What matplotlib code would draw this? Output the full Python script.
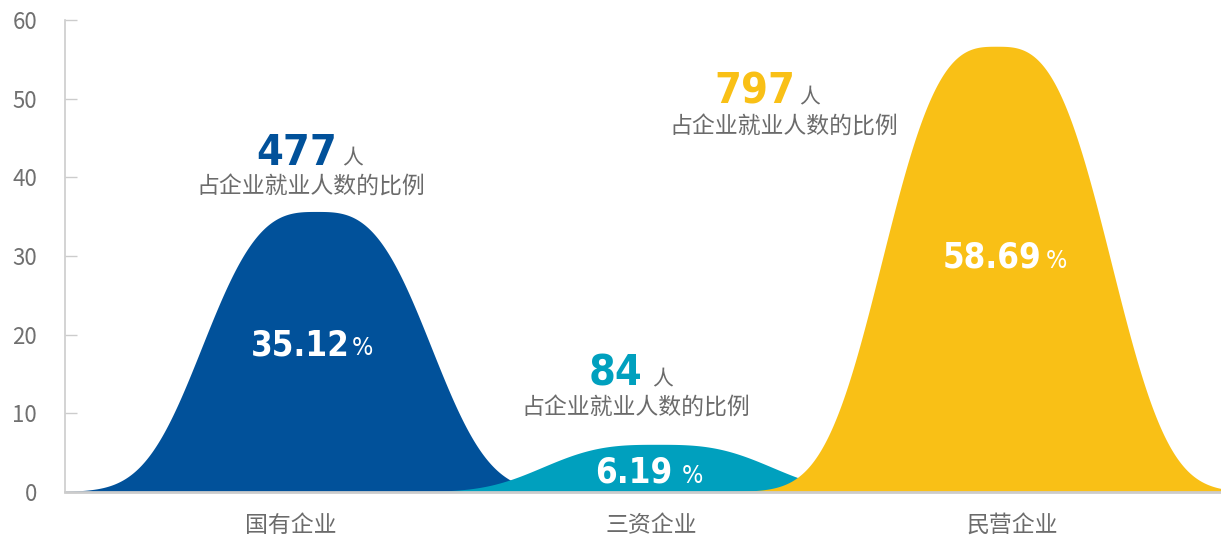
import numpy as np
import matplotlib
matplotlib.use("Agg")
import matplotlib.pyplot as plt

# data
categories = ["国有企业", "三资企业", "民营企业"]
counts = [477, 84, 797]
shares = [35.12, 6.19, 58.69]
peaks = [35.6, 6.0, 56.6]          # shape heights as drawn
y_ticks = [0, 10, 20, 30, 40, 50, 60]
sub_text = "占企业就业人数的比例"

colors = ["#01519a", "#00a0be", "#f9c016"]
cjk = ["Noto Sans CJK SC", "DejaVu Sans"]
num = ["DejaVu Sans"]
gray = "#6b6b6b"

# layout (data coords)
shift = [0.072, 0.017, -0.042]
num_right = [0.128, 0.976, 1.398]
ren_left = [0.141, 1.001, 1.409]
num_base = [41.6, 13.6, 49.4]
sub_xy = [(0.055, 38.8), (0.957, 10.7), (1.368, 46.4)]
pct_right = [0.164, 1.057, 2.083]
pct_left = [0.169, 1.085, 2.094]
pct_base = [17.4, 1.15, 28.5]

fig = plt.figure(figsize=(12.21, 5.38), dpi=100)
ax = fig.add_axes([65/1221, 46/538, 1156/1221, 472/538])

xs = np.linspace(-0.7, 2.7, 2000)
for i in range(3):
    c = i + shift[i]
    y = peaks[i]*np.exp(-(np.abs(xs - c)/0.365)**3.0)
    ax.fill_between(xs, 0, y, color=colors[i], lw=0, zorder=2+i)

for i in range(3):
    ax.text(num_right[i], num_base[i], str(counts[i]), ha="right", va="baseline",
            fontsize=31, fontweight="bold", fontstretch="condensed",
            color=colors[i], family=num, zorder=10)
    ax.text(ren_left[i], num_base[i], "人", ha="left", va="baseline",
            fontsize=15, color=gray, family=cjk, zorder=10)
    ax.text(sub_xy[i][0], sub_xy[i][1], sub_text, ha="center", va="center",
            fontsize=16.5, color=gray, family=cjk, zorder=10)
    ax.text(pct_right[i], pct_base[i], "%.2f" % shares[i], ha="right", va="baseline",
            fontsize=25, fontweight="bold", fontstretch="condensed",
            color="white", family=num, zorder=10)
    ax.text(pct_left[i], pct_base[i], "%", ha="left", va="baseline",
            fontsize=18, fontstretch="condensed", color="white", family=num, zorder=10)

ax.set_xlim(-0.627, 2.58)
ax.set_ylim(0, 60)
ax.set_yticks(y_ticks)
ax.set_xticks(range(3))
ax.set_xticklabels(categories, family=cjk, fontsize=16.5, color=gray)
for lab in ax.get_yticklabels():
    lab.set_family(cjk)
ax.tick_params(axis="y", direction="in", length=8.6, width=1, color="#cccccc",
               pad=20, labelsize=16, labelcolor="#707070")
ax.tick_params(axis="x", length=0, pad=16)

for s in ["top", "right"]:
    ax.spines[s].set_visible(False)
ax.spines["left"].set_color("#cccccc")
ax.spines["left"].set_linewidth(1.2)
ax.spines["bottom"].set_color("#cccccc")
ax.spines["bottom"].set_linewidth(2)
ax.spines["bottom"].set_zorder(8)

plt.savefig("out.png", dpi=100)
